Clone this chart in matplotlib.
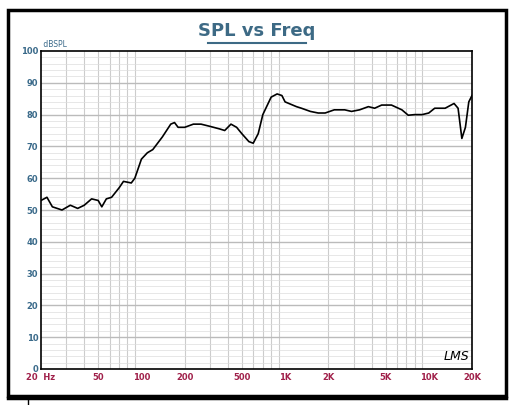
import matplotlib
matplotlib.use("Agg")
import matplotlib.pyplot as plt
import numpy as np
from matplotlib.patches import Rectangle

freq = [20,22,24,28,32,36,40,45,50,53,57,62,70,75,85,90,100,110,120,140,160,170,180,200,230,260,300,350,380,420,460,500,560,600,650,700,800,880,950,1000,1200,1300,1500,1700,1900,2200,2600,2900,3300,3800,4200,4700,5500,6500,7200,8000,9000,10000,11000,13000,15000,16000,17000,18000,19000,20000]
spl = [53,54,51,50,51.5,50.5,51.5,53.5,53,51,53.5,54,57,59,58.5,60,66,68,69,73,77,77.5,76,76,77,77,76.3,75.5,75,77,76,74,71.5,71,74,80,85.5,86.5,86,84,82.5,82,81,80.5,80.5,81.5,81.5,81,81.5,82.5,82,83,83,81.5,79.8,80,80,80.5,82,82,83.5,82,72.5,76,84,86]
xticks = [20,50,100,200,500,1000,2000,5000,10000,20000]
xlabels = ["20  Hz","50","100","200","500","1K","2K","5K","10K","20K"]

W,H = 514,405
fig = plt.figure(figsize=(W/100,H/100), dpi=100)
fig.patches.append(Rectangle((8/W,1-396/H),498/W,386/H, transform=fig.transFigure, fill=False, lw=2.5, ec='black'))
fig.add_artist(plt.Line2D([8/W,506/W],[1-398/H,1-398/H], color='black', lw=2.5))
fig.add_artist(plt.Line2D([28/W,28/W],[0,1-398/H], color='black', lw=1))
ax = fig.add_axes([41/W, 1-369/H, 431/W, 318/H])
ax.set_xscale('log')
ax.set_xlim(20,20000); ax.set_ylim(0,100)
minor = [f for d in [10,100,1000,10000] for f in [d*k for k in range(2,10)] if 20<f<20000]
for f in minor:
    ax.axvline(f, color='#cccccc', lw=0.8, zorder=0)
for y in range(2,100,2):
    ax.axhline(y, color='#dddddd' if y%10 else '#bbbbbb', lw=0.5 if y%10 else 1.0, zorder=0)
ax.plot(freq, spl, color='black', lw=1.2)
ax.set_xticks(xticks); ax.set_xticklabels(xlabels)
ax.xaxis.set_minor_locator(matplotlib.ticker.NullLocator())
ax.set_yticks(range(0,101,10))
ax.tick_params(length=0, labelsize=6)
for t in ax.get_xticklabels(): t.set_color('#a0204a'); t.set_fontweight('bold')
for t in ax.get_yticklabels(): t.set_color('#3a6a8a'); t.set_fontweight('bold')
ax.tick_params(axis='x', pad=3); ax.tick_params(axis='y', pad=2)
for s in ax.spines.values(): s.set_linewidth(1.2)
ax.text(0.0, 1.005, " dBSPL", transform=ax.transAxes, fontsize=5.5, color='#3a6a8a', va='bottom')
ax.text(0.935, 0.02, "LMS", transform=ax.transAxes, fontsize=9, style='italic', va='bottom')
fig.text(257/W, 1-31/H, "SPL vs Freq", ha='center', va='center', fontsize=13, fontweight='bold', color='#3d6a85', family='Liberation Sans Narrow')
fig.add_artist(plt.Line2D([208/W,306/W],[1-43/H,1-43/H], color='#3d6a85', lw=1.5))
fig.savefig("out.png", dpi=100)
